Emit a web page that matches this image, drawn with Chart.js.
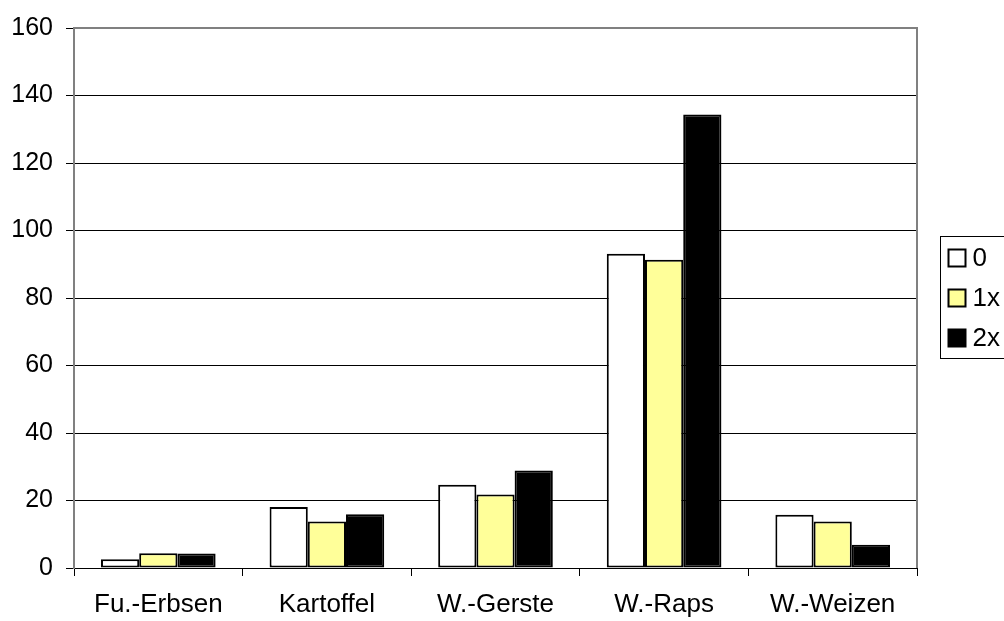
<!DOCTYPE html>
<html>
<head>
<meta charset="utf-8">
<script src="https://cdn.jsdelivr.net/npm/chart.js@4.4.1/dist/chart.umd.min.js"></script>
<style>
  html, body { margin: 0; padding: 0; background: #fff; }
  #wrap { width: 1004px; height: 621px; }
</style>
</head>
<body>
<div id="wrap"><canvas id="cropChart" width="1004" height="621"></canvas></div>
<script>
// values
const categories = ['Fu.-Erbsen', 'Kartoffel', 'W.-Gerste', 'W.-Raps', 'W.-Weizen'];
const seriesNames = ['0', '1x', '2x'];
const values0 = [2.6, 18.1, 24.7, 93.1, 15.8];
const values1x = [4.4, 13.8, 21.8, 91.3, 13.8];
const values2x = [4.3, 15.9, 28.9, 134.4, 6.9];
const yTicks = [0, 20, 40, 60, 80, 100, 120, 140, 160];

const fillColors = ['#ffffff', '#ffff99', '#000000'];
const FONT = 'Liberation Sans, Arial, sans-serif';

// plot frame (gray top/right border) + boxed legend like the Excel original
const frameAndLegend = {
  id: 'frameAndLegend',
  afterDatasetsDraw(chart) {
    const { ctx, chartArea } = chart;
    ctx.save();
    ctx.strokeStyle = '#808080';
    ctx.lineWidth = 2;
    ctx.beginPath();
    ctx.moveTo(chartArea.left, chartArea.top);
    ctx.lineTo(chartArea.right, chartArea.top);
    ctx.lineTo(chartArea.right, chartArea.bottom);
    ctx.stroke();

    // legend
    const lx = chartArea.right + 23.5;
    const ly = 236.5;
    ctx.strokeStyle = '#000';
    ctx.lineWidth = 1;
    ctx.strokeRect(lx, ly, 80, 122);
    ctx.font = '26px ' + FONT;
    ctx.textBaseline = 'middle';
    chart.data.datasets.forEach((ds, i) => {
      const cy = ly + 21 + i * 40;
      ctx.fillStyle = ds.backgroundColor;
      ctx.fillRect(lx + 8, cy - 8, 17, 17);
      ctx.lineWidth = 2;
      ctx.strokeStyle = '#000';
      ctx.strokeRect(lx + 8, cy - 8, 17, 17);
      ctx.fillStyle = '#000';
      ctx.fillText(ds.label, lx + 32, cy + 1);
    });
    ctx.restore();
  }
};

const ctx = document.getElementById('cropChart').getContext('2d');
new Chart(ctx, {
  type: 'bar',
  data: {
    labels: categories,
    datasets: [values0, values1x, values2x].map((vals, i) => ({
      label: seriesNames[i],
      data: vals,
      backgroundColor: fillColors[i],
      borderColor: '#000',
      borderWidth: 2,
      borderSkipped: false,
      categoryPercentage: 0.68,
      barPercentage: 1.0
    }))
  },
  options: {
    responsive: false,
    animation: false,
    devicePixelRatio: 1,
    layout: { padding: { top: 25, right: 87, left: 0, bottom: 0 } },
    plugins: {
      legend: { display: false },
      tooltip: { enabled: false }
    },
    scales: {
      x: {
        offset: true,
        grid: {
          offset: true,
          drawOnChartArea: false,
          drawTicks: true,
          tickLength: 8,
          color: '#000',
          lineWidth: 1
        },
        border: { display: true, color: '#000', width: 1 },
        ticks: { color: '#000', font: { family: FONT, size: 26 }, padding: 13, maxRotation: 0 },
        afterFit: s => { s.height = 53; }
      },
      y: {
        min: 0,
        max: 160,
        afterBuildTicks: s => { s.ticks = yTicks.map(v => ({ value: v })); },
        grid: {
          color: c => (c.tick && c.tick.value === 160 ? '#808080' : '#000'),
          lineWidth: 1,
          tickLength: 8,
          tickColor: '#000'
        },
        border: { display: true, color: '#808080', width: 2 },
        ticks: { color: '#000', font: { family: FONT, size: 25 }, padding: 13 },
        afterFit: s => { s.width = 74; }
      }
    }
  },
  plugins: [frameAndLegend]
});
</script>
</body>
</html>
